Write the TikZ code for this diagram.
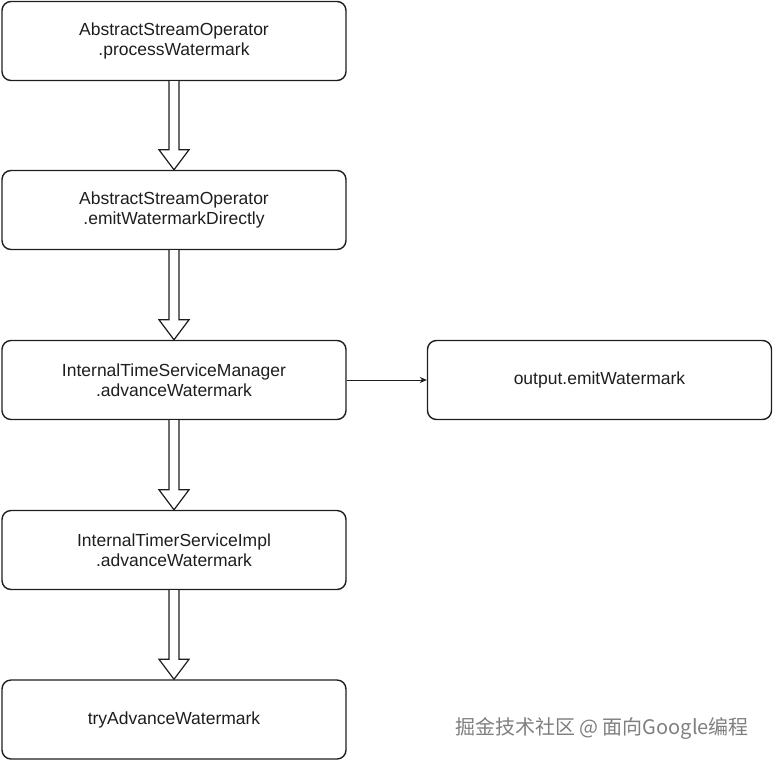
\documentclass[tikz,border=0pt]{standalone}
\usepackage{fontspec}
\setmainfont{Liberation Sans}
\newfontfamily\cjk{Noto Sans CJK SC}
\usetikzlibrary{calc,arrows.meta}
\definecolor{ink}{HTML}{1E1E1E}
\definecolor{wm}{HTML}{7F7F7F}
\tikzset{
  stepbox/.style={draw=ink, line width=1.4pt, rounded corners=9pt, minimum width=344pt, minimum height=79pt, inner sep=0pt, align=center, text=ink, font=\fontsize{17.5}{20.5}\selectfont},
  blockarr/.style={draw=ink, line width=1.2pt, fill=white, line join=miter},
  thinarr/.style={draw=ink, line width=0.8pt, -{Stealth[length=7pt,width=6pt]}}
}
\newcommand{\blockarrow}[2]{%
  \draw[blockarr] ($(#1.south)+(-5pt,0)$) -- ($(#2.north)+(-5pt,20pt)$) -- ($(#2.north)+(-15pt,20pt)$) -- (#2.north) -- ($(#2.north)+(15pt,20pt)$) -- ($(#2.north)+(5pt,20pt)$) -- ($(#1.south)+(5pt,0)$);}
\begin{document}
\begin{tikzpicture}[x=1pt,y=-1pt]
\useasboundingbox (0,0) rectangle (773,761);
\node[stepbox] (b1) at (174,41) {AbstractStreamOperator\\.processWatermark};
\node[stepbox] (b2) at (174,210) {AbstractStreamOperator\\.emitWatermarkDirectly};
\node[stepbox] (b3) at (174,380) {InternalTimeServiceManager\\.advanceWatermark};
\node[stepbox] (b4) at (174,550) {InternalTimerServiceImpl\\.advanceWatermark};
\node[stepbox] (b5) at (174,719.5) {tryAdvanceWatermark};
\node[stepbox] (r) at (599.5,380) {output.emitWatermark};
\blockarrow{b1}{b2}
\blockarrow{b2}{b3}
\blockarrow{b3}{b4}
\blockarrow{b4}{b5}
\draw[thinarr] (b3.east) -- (r.west);
\node[text=wm, font=\cjk\fontsize{20}{22}\selectfont, anchor=center] (w) at (602,728) {掘金技术社区 @ 面向Google编程};
\end{tikzpicture}
\end{document}
